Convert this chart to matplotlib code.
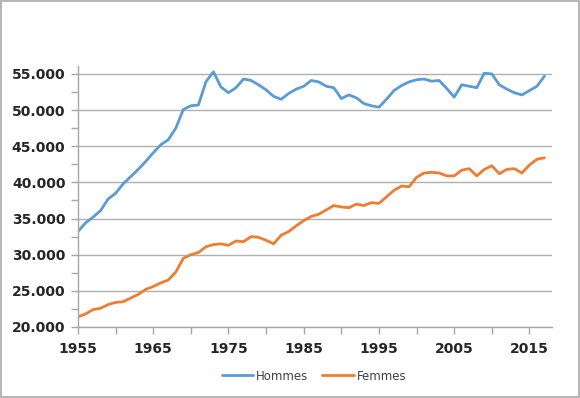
import numpy as np
import matplotlib.pyplot as plt
from matplotlib.ticker import FuncFormatter, MultipleLocator
from matplotlib.patches import Rectangle

years = list(range(1955, 2018))

hommes = [33200, 34400, 35200, 36100, 37700, 38500, 39800, 40800, 41800, 42900,
          44100, 45200, 45900, 47500, 50100, 50600, 50700, 53900, 55300, 53200,
          52400, 53100, 54300, 54100, 53500, 52800, 51900, 51500, 52300, 52900,
          53300, 54100, 53900, 53300, 53100, 51600, 52100, 51700, 50900, 50600,
          50400, 51500, 52700, 53400, 53900, 54200, 54300, 54000, 54100, 53000,
          51800, 53500, 53300, 53100, 55100, 55000, 53500, 52900, 52400, 52100,
          52700, 53300, 54700]

femmes = [21400, 21800, 22400, 22600, 23100, 23400, 23500, 24000, 24500, 25200,
          25600, 26100, 26500, 27600, 29500, 30000, 30300, 31100, 31400, 31500,
          31300, 31900, 31800, 32500, 32400, 32000, 31500, 32700, 33200, 34000,
          34700, 35300, 35600, 36200, 36800, 36600, 36500, 37000, 36800, 37200,
          37100, 38000, 38900, 39500, 39400, 40700, 41300, 41400, 41300, 40900,
          40900, 41700, 41900, 40900, 41800, 42300, 41200, 41800, 41900, 41300,
          42400, 43200, 43400]

fig = plt.figure(figsize=(5.8, 3.98), dpi=100)
ax = fig.add_axes([78/580, 71/398, 474/580, 261/398])

ax.plot(years, hommes, color='#5B9BD5', linewidth=2.0, label='Hommes',
        solid_capstyle='round', solid_joinstyle='round')
ax.plot(years, femmes, color='#ED7D31', linewidth=2.0, label='Femmes',
        solid_capstyle='round', solid_joinstyle='round')

ax.set_xlim(1955, 2018)
ax.set_ylim(20000, 56100)
ax.xaxis.set_minor_locator(MultipleLocator(5))
ax.set_xticks([1955, 1965, 1975, 1985, 1995, 2005, 2015])
ax.yaxis.set_major_locator(MultipleLocator(5000))
ax.yaxis.set_minor_locator(MultipleLocator(2500))
ax.yaxis.set_major_formatter(FuncFormatter(lambda v, p: '{:,.0f}'.format(v).replace(',', '.')))

ax.grid(axis='y', which='major', color='#b0b0b0', linewidth=1)
ax.set_axisbelow(True)
for s in ['top', 'right']:
    ax.spines[s].set_visible(False)
for s in ['left', 'bottom']:
    ax.spines[s].set_color('#a6a6a6')
    ax.spines[s].set_linewidth(1)

ax.tick_params(which='both', direction='out', color='#a6a6a6', length=5, width=1)
ax.tick_params(axis='y', which='major', labelsize=10, labelcolor='#262626', pad=4)
ax.tick_params(axis='x', which='major', labelsize=10, labelcolor='#262626', pad=6)
for lab in ax.get_xticklabels() + ax.get_yticklabels():
    lab.set_fontweight('bold')

fig.legend(loc='center', bbox_to_anchor=(0.541, 22/398), ncol=2,
           frameon=False, fontsize=8.5, handlelength=2.7, columnspacing=1.2,
           handletextpad=0.2, labelcolor='#404040')

fig.patches.append(Rectangle((0.002, 0.003), 0.996, 0.994, transform=fig.transFigure,
                             fill=False, edgecolor='#a8a8a8', linewidth=1.2))

fig.savefig('out.png', dpi=100)
